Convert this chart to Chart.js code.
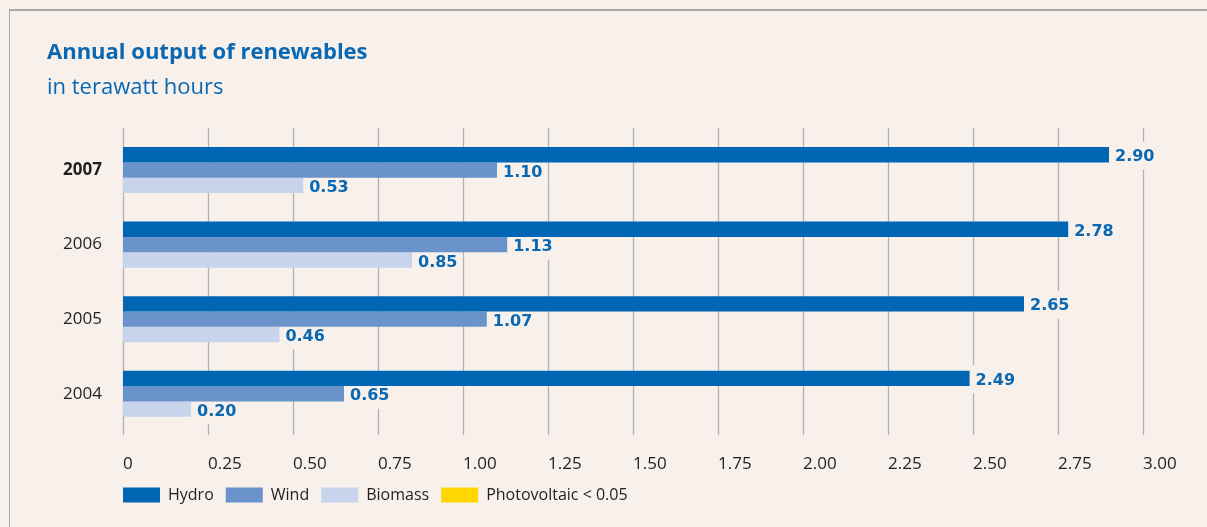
<!DOCTYPE html>
<html lang="en">

<head>
    <meta charset="UTF-8">
    <meta name="viewport" content="width=device-width, initial-scale=1.0">
    <script src="https://cdn.jsdelivr.net/npm/chart.js@4.4.1/dist/chart.umd.min.js"></script>
    <title>Annual output of renewables</title>
    <style>
        html, body { margin: 0; padding: 0; background: #f7f0eb; overflow: hidden; }
        #frame { position: absolute; left: 9px; top: 9px; right: 0; bottom: 0; border-top: 2px solid #aaa8a6; border-left: 1px solid #aaa8a6; }
        #wrap { position: absolute; left: 0; top: 0; width: 1207px; height: 527px; }
    </style>
</head>

<body>
    <div id="frame"></div>
    <div id="wrap"><canvas id="myChart"></canvas></div>

    <script>
        const years = ['2007', '2006', '2005', '2004'];
        const hydro = [2.90, 2.78, 2.65, 2.49];
        const wind = [1.10, 1.13, 1.07, 0.65];
        const biomass = [0.53, 0.85, 0.46, 0.20];
        const photovoltaic = [null, null, null, null];   // below 0.05, legend only
        const xTicks = ['0', '0.25', '0.50', '0.75', '1.00', '1.25', '1.50', '1.75', '2.00', '2.25', '2.50', '2.75', '3.00'];

        const bg = '#f7f0eb';
        const blue = '#0a67b2';
        const labelFont = 'bold 16px "DejaVu Sans"';

        // vertical grid lines plus knock-out boxes behind the value labels
        const valueGrid = {
            id: 'valueGrid',
            beforeDatasetsDraw(chart) {
                const { ctx, chartArea, scales: { x } } = chart;
                ctx.save();
                ctx.strokeStyle = '#b5b0ad';
                ctx.lineWidth = 1.3;
                x.ticks.forEach((t, i) => {
                    const px = Math.round(x.getPixelForTick(i)) + 0.5;
                    ctx.beginPath();
                    ctx.moveTo(px, chartArea.top - 5);
                    ctx.lineTo(px, chartArea.bottom + 4);
                    ctx.stroke();
                });
                ctx.font = labelFont;
                ctx.fillStyle = bg;
                chart.data.datasets.forEach((ds, di) => {
                    chart.getDatasetMeta(di).data.forEach((bar, i) => {
                        const v = ds.data[i];
                        if (v == null) return;
                        const w = ctx.measureText(v.toFixed(2)).width;
                        ctx.fillRect(bar.x + 2, bar.y - 13, w + 9, 28);
                    });
                });
                ctx.restore();
            },
            afterDatasetsDraw(chart) {
                const { ctx } = chart;
                ctx.save();
                ctx.font = labelFont;
                ctx.fillStyle = blue;
                ctx.textBaseline = 'middle';
                chart.data.datasets.forEach((ds, di) => {
                    chart.getDatasetMeta(di).data.forEach((bar, i) => {
                        const v = ds.data[i];
                        if (v == null) return;
                        ctx.fillText(v.toFixed(2), bar.x + 6, bar.y + 2.5);
                    });
                });
                ctx.restore();
            }
        };

        // legend starts flush with the plot's left edge
        const legendShift = {
            id: 'legendShift',
            afterLayout(chart) {
                chart.legend.left = chart.chartArea.left - chart.options.plugins.legend.labels.padding;
            }
        };

        Chart.defaults.font.family = '"Open Sans"';
        Chart.defaults.color = '#231f20';

        var ctx = document.getElementById('myChart').getContext('2d');
        var myChart = new Chart(ctx, {
            type: 'bar',
            data: {
                labels: years,
                datasets: [
                    { label: 'Hydro', data: hydro, backgroundColor: '#0065b3' },
                    { label: 'Wind', data: wind, backgroundColor: '#6a93cc' },
                    { label: 'Biomass', data: biomass, backgroundColor: '#c8d4ec' },
                    { label: 'Photovoltaic < 0.05', data: photovoltaic, backgroundColor: '#ffd600' }
                ]
            },
            options: {
                indexAxis: 'y',
                responsive: true,
                maintainAspectRatio: false,
                animation: false,
                skipNull: true,
                categoryPercentage: 0.618,
                barPercentage: 1,
                borderWidth: 0,
                layout: { padding: { left: 47, right: 64, top: 0, bottom: 14 } },
                scales: {
                    x: {
                        min: 0,
                        max: 3,
                        ticks: {
                            stepSize: 0.25,
                            align: 'start',
                            padding: 23,
                            font: { size: 17 },
                            callback: (v, i) => xTicks[i]
                        },
                        grid: { display: false, drawTicks: false },
                        border: { display: false },
                        afterFit: (s) => { s.height = 44; }
                    },
                    y: {
                        ticks: {
                            padding: 21,
                            font: (c) => ({ size: 17, weight: c.index === 0 ? 'bold' : 'normal' })
                        },
                        grid: { display: false, drawTicks: false },
                        border: { display: false },
                        afterFit: (s) => { s.width = 76; }
                    }
                },
                plugins: {
                    title: {
                        display: true,
                        text: 'Annual output of renewables',
                        align: 'start',
                        color: blue,
                        font: { size: 22, weight: 'bold' },
                        padding: { top: 40, bottom: 0 }
                    },
                    subtitle: {
                        display: true,
                        text: 'in terawatt hours',
                        align: 'start',
                        color: blue,
                        font: { size: 22, weight: 'normal' },
                        padding: { top: 8, bottom: 32 }
                    },
                    legend: {
                        position: 'bottom',
                        align: 'start',
                        fullSize: false,
                        labels: {
                            boxWidth: 37,
                            boxHeight: 15,
                            padding: 12,
                            font: { size: 16 },
                            color: '#231f20'
                        }
                    },
                    tooltip: { enabled: false }
                }
            },
            plugins: [valueGrid, legendShift]
        });
    </script>

</body>

</html>
